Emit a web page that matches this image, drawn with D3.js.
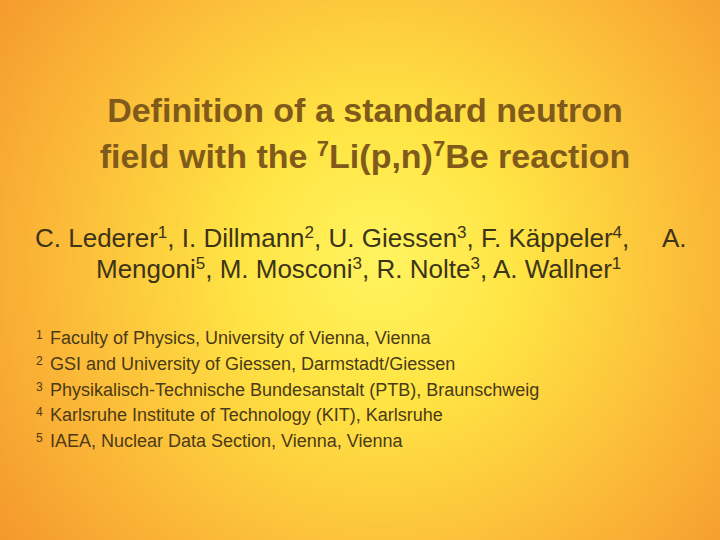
<!DOCTYPE html>
<html><head><meta charset="utf-8">
<script src="https://cdn.jsdelivr.net/npm/d3@7"></script>
<style>body{margin:0;overflow:hidden}</style></head>
<body><script>
const titleLines = [
  [["Definition of a standard neutron",""]],
  [["field with the ",""],["7","sup"],["Li(p,n)",""],["7","sup"],["Be reaction",""]]
];
const authorLine1 = [["C. Lederer",""],["1","sup"],[", I. Dillmann",""],["2","sup"],[", U. Giessen",""],["3","sup"],[", F. Käppeler",""],["4","sup"],[",",""]];
const authorLine1End = "A.";
const authorLine2 = [["Mengoni",""],["5","sup"],[", M. Mosconi",""],["3","sup"],[", R. Nolte",""],["3","sup"],[", A. Wallner",""],["1","sup"]];
const affNums = ["1","2","3","4","5"];
const affiliations = [
  "Faculty of Physics, University of Vienna, Vienna",
  "GSI and University of Giessen, Darmstadt/Giessen",
  "Physikalisch-Technische Bundesanstalt (PTB), Braunschweig",
  "Karlsruhe Institute of Technology (KIT), Karlsruhe",
  "IAEA, Nuclear Data Section, Vienna, Vienna"
];

const svg = d3.select("body").append("svg").attr("width",720).attr("height",540);
const defs = svg.append("defs");
const g = defs.append("radialGradient").attr("id","bg").attr("gradientUnits","userSpaceOnUse")
  .attr("cx",380).attr("cy",260).attr("r",470);
g.append("stop").attr("offset","0").attr("stop-color","#fff460");
g.append("stop").attr("offset","0.3").attr("stop-color","#ffe444");
g.append("stop").attr("offset","0.7").attr("stop-color","#fbb838");
g.append("stop").attr("offset","1").attr("stop-color","#f4982c");
svg.append("rect").attr("width",720).attr("height",540).attr("fill","url(#bg)");

function rich(sel, parts, supSize){
  parts.forEach(([t,k])=>{
    const ts = sel.append("tspan").text(t);
    if(k==="sup") ts.attr("baseline-shift","super").attr("font-size",supSize);
  });
}
const font = "Liberation Sans, Arial, sans-serif";
const ty = [122,168];
titleLines.forEach((parts,i)=>{
  const t = svg.append("text").attr("x",365).attr("y",ty[i]).attr("text-anchor","middle")
    .attr("font-family",font).attr("font-weight","bold").attr("font-size",34).attr("fill","#805a1a");
  rich(t, parts, 22);
});
const a1 = svg.append("text").attr("x",35).attr("y",247).attr("font-family",font).attr("font-size",26).attr("fill","#3c3418");
rich(a1, authorLine1, 17);
svg.append("text").attr("x",662).attr("y",247).attr("font-family",font).attr("font-size",26).attr("fill","#3c3418").text(authorLine1End);
const a2 = svg.append("text").attr("x",96).attr("y",278).attr("font-family",font).attr("font-size",26).attr("fill","#3c3418");
rich(a2, authorLine2, 17);

const ay = d3.scaleLinear().domain([0,4]).range([344,447]);
affiliations.forEach((s,i)=>{
  svg.append("text").attr("x",36).attr("y",ay(i)-5).attr("font-family",font).attr("font-size",12).attr("fill","#4a3a18").text(affNums[i]);
  svg.append("text").attr("x",50).attr("y",ay(i)).attr("font-family",font).attr("font-size",18).attr("fill","#4a3a18").text(s);
});
</script></body></html>
